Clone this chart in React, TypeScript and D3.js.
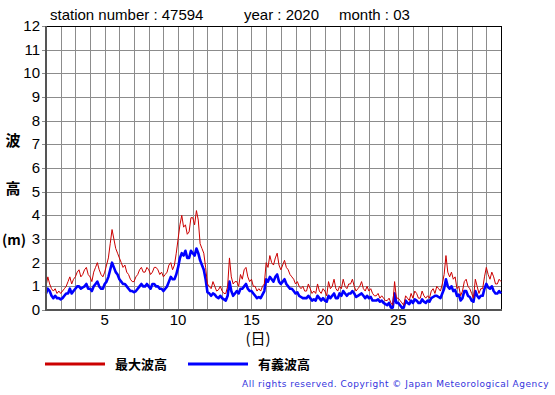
import React, { useRef, useEffect } from 'react';
import * as d3 from 'd3';

// observation times in days (every 3 hours, day 1 00:00 .. day 32 00:00)
const days: number[] = d3.range(1, 32.0001, 0.125);

// 最大波高 (m), 8 values per day
const maxWave: number[] = [
  1.0, 1.4, 1.1, 0.9, 0.8, 0.9, 0.7, 0.8,
  0.7, 0.8, 0.9, 1.0, 1.2, 1.4, 1.1, 1.3,
  1.4, 1.6, 1.7, 1.4, 1.5, 1.7, 1.8, 1.5,
  1.4, 1.2, 1.6, 1.8, 2.0, 1.7, 1.5, 1.4,
  1.6, 1.9, 2.2, 2.8, 3.4, 3.0, 2.6, 2.4,
  2.2, 2.0, 1.8, 1.9, 1.6, 1.5, 1.3, 1.2,
  1.2, 1.4, 1.5, 1.7, 1.8, 1.6, 1.6, 1.8,
  1.7, 1.5, 1.6, 1.8, 1.8, 1.7, 1.5, 1.6,
  1.4, 1.5, 1.6, 1.9, 2.0, 1.7, 1.9, 2.4,
  3.0, 3.6, 4.0, 3.5, 3.6, 3.2, 3.3, 3.9,
  3.9, 3.6, 4.2, 3.8, 2.8, 2.6, 2.4, 1.8,
  1.1, 1.0, 0.9, 1.2, 1.0, 0.8, 0.85, 1.0,
  0.8, 0.7, 0.7, 1.0, 2.2, 1.4, 1.1, 1.2,
  1.2, 1.0, 1.5, 1.3, 1.7, 1.8, 1.4, 1.2,
  1.3, 1.0, 1.0, 0.8, 0.9, 0.8, 1.0, 1.1,
  2.0, 1.8, 2.3, 2.0, 1.9, 2.2, 2.4, 1.9,
  1.7, 1.9, 2.1, 1.8, 1.7, 1.5, 1.4, 1.3,
  1.1, 1.2, 1.0, 0.9, 1.0, 0.8, 0.8, 1.1,
  0.9, 0.7, 0.8, 0.7, 1.1, 0.8, 0.7, 0.9,
  0.8, 0.6, 1.2, 0.9, 1.0, 1.3, 0.9, 0.8,
  1.0, 0.9, 1.3, 1.0, 0.9, 1.1, 1.1, 1.3,
  1.0, 0.8, 0.9, 1.0, 1.2, 0.9, 0.8, 1.0,
  0.8, 0.9, 0.7, 0.6, 0.6, 0.7, 0.5, 0.6,
  0.5, 0.4, 0.4, 0.5, 0.3, 0.2, 1.2, 0.5,
  0.5, 0.4, 0.3, 0.2, 0.6, 0.5, 0.4, 0.7,
  0.5, 0.8, 0.7, 0.5, 0.5, 0.8, 0.6, 0.5,
  0.6, 0.5, 0.8, 0.9, 0.7, 1.0, 0.9, 0.8,
  1.1, 1.5, 2.3, 1.6, 1.4, 1.6, 1.3, 1.4,
  0.9, 1.0, 0.6, 0.8, 1.2, 1.3, 1.0, 0.9,
  0.7, 0.5, 1.3, 1.0, 0.7, 0.9, 0.9, 1.4,
  1.8, 1.5, 1.3, 1.6, 1.4, 1.1, 1.1, 1.3,
  1.2,
];

// 有義波高 (m), 8 values per day
const sigWave: number[] = [
  0.7, 0.9, 0.8, 0.6, 0.5, 0.6, 0.5, 0.5,
  0.45, 0.5, 0.6, 0.7, 0.7, 0.9, 0.7, 0.8,
  0.9, 1.0, 1.0, 0.9, 0.95, 1.0, 1.1, 0.9,
  0.9, 0.8, 1.0, 1.1, 1.2, 1.0, 0.9, 0.9,
  1.1, 1.2, 1.4, 1.7, 2.0, 1.8, 1.6, 1.5,
  1.3, 1.2, 1.1, 1.1, 1.0, 0.9, 0.8, 0.8,
  0.75, 0.8, 0.9, 1.0, 1.1, 1.0, 1.0, 1.1,
  1.0, 0.9, 1.1, 1.1, 1.0, 1.0, 0.9, 0.9,
  0.8, 0.9, 1.0, 1.2, 1.4, 1.3, 1.3, 1.5,
  1.8, 2.2, 2.4, 2.3, 2.5, 2.2, 2.2, 2.5,
  2.4, 2.3, 2.6, 2.4, 2.1, 1.9, 1.7, 1.3,
  0.75, 0.7, 0.6, 0.7, 0.65, 0.55, 0.5, 0.6,
  0.5, 0.45, 0.4, 0.6, 1.2, 0.8, 0.6, 0.7,
  0.8, 0.7, 0.9, 0.9, 1.0, 1.1, 0.9, 0.8,
  0.8, 0.7, 0.6, 0.5, 0.55, 0.5, 0.65, 0.8,
  1.3, 1.2, 1.4, 1.3, 1.2, 1.4, 1.5, 1.2,
  1.1, 1.2, 1.3, 1.1, 1.0, 0.9, 0.9, 0.8,
  0.7, 0.75, 0.6, 0.55, 0.5, 0.5, 0.5, 0.6,
  0.5, 0.4, 0.45, 0.4, 0.6, 0.5, 0.4, 0.5,
  0.4, 0.35, 0.6, 0.5, 0.6, 0.7, 0.5, 0.5,
  0.7, 0.6, 0.8, 0.7, 0.6, 0.7, 0.7, 0.8,
  0.7, 0.55, 0.6, 0.65, 0.7, 0.6, 0.5, 0.6,
  0.5, 0.55, 0.4, 0.4, 0.4, 0.45, 0.35, 0.4,
  0.3, 0.25, 0.2, 0.3, 0.1, 0.1, 0.7, 0.3,
  0.3, 0.2, 0.1, 0.1, 0.4, 0.3, 0.25, 0.4,
  0.3, 0.45, 0.4, 0.3, 0.3, 0.45, 0.35, 0.3,
  0.4, 0.35, 0.5, 0.55, 0.6, 0.6, 0.55, 0.5,
  0.7, 0.9, 1.3, 1.0, 0.9, 1.0, 0.8, 0.85,
  0.6, 0.65, 0.4, 0.5, 0.8, 0.8, 0.6, 0.55,
  0.4, 0.35, 0.8, 0.6, 0.5, 0.6, 0.6, 0.9,
  1.1, 0.95, 0.9, 1.0, 0.8, 0.7, 0.7, 0.8,
  0.7,
];

const yTicks = d3.range(0, 13);
const xTicks = [5, 10, 15, 20, 25, 30];
const legendItems = [
  { label: '最大波高', color: '#cc0000' },
  { label: '有義波高', color: '#0000ff' },
];

const W = 555;
const H = 395;

const App = () => {
  const ref = useRef<SVGSVGElement>(null);

  useEffect(() => {
    const svg = d3.select(ref.current);
    svg.selectAll('*').remove();

    const left = 46, right = 501, top = 26, bottom = 310;
    const x = d3.scaleLinear().domain([1, 32]).range([left, right]);
    const y = d3.scaleLinear().domain([0, 12]).range([bottom, top]);
    const font = 'Liberation Sans, Arial, sans-serif';
    const cjk = 'Noto Sans CJK JP, sans-serif';

    svg.append('rect').attr('width', W).attr('height', H).attr('fill', '#fff');

    // grid
    const grid = svg.append('g').attr('stroke', '#8c8c8c').attr('stroke-width', 1);
    grid.selectAll('line.v')
      .data(d3.range(2, 32))
      .join('line')
      .attr('x1', d => Math.round(x(d)) + 0.5)
      .attr('x2', d => Math.round(x(d)) + 0.5)
      .attr('y1', top).attr('y2', bottom);
    grid.selectAll('line.h')
      .data(yTicks)
      .join('line')
      .attr('x1', left - 4).attr('x2', right)
      .attr('y1', d => Math.round(y(d)) + 0.5)
      .attr('y2', d => Math.round(y(d)) + 0.5);

    // frame
    svg.append('line').attr('x1', left).attr('x2', right).attr('y1', top + 0.5).attr('y2', top + 0.5).attr('stroke', '#000');
    svg.append('line').attr('x1', right + 0.5).attr('x2', right + 0.5).attr('y1', top).attr('y2', bottom).attr('stroke', '#000');

    const line = d3.line<number>()
      .x((_, i) => x(days[i]))
      .y(d => y(d));

    svg.append('path')
      .datum(sigWave)
      .attr('fill', 'none')
      .attr('stroke', '#0000ff')
      .attr('stroke-width', 2.6)
      .attr('stroke-linejoin', 'round')
      .attr('d', line);

    svg.append('path')
      .datum(maxWave)
      .attr('fill', 'none')
      .attr('stroke', '#cc0000')
      .attr('stroke-width', 1)
      .attr('stroke-linejoin', 'round')
      .attr('d', line);

    // axis lines (left and bottom)
    svg.append('line').attr('x1', left).attr('x2', left).attr('y1', top).attr('y2', bottom + 1).attr('stroke', '#555').attr('stroke-width', 2);
    svg.append('line').attr('x1', left).attr('x2', right + 1).attr('y1', bottom).attr('y2', bottom).attr('stroke', '#555').attr('stroke-width', 2);

    // y labels
    svg.append('g')
      .selectAll('text')
      .data(yTicks)
      .join('text')
      .attr('x', 40)
      .attr('y', d => y(d) + 5)
      .attr('text-anchor', 'end')
      .attr('font-family', font)
      .attr('font-size', 15)
      .text(d => d);

    // x labels
    svg.append('g')
      .selectAll('text')
      .data(xTicks)
      .join('text')
      .attr('x', d => x(d))
      .attr('y', 325)
      .attr('text-anchor', 'middle')
      .attr('font-family', font)
      .attr('font-size', 15)
      .text(d => d);

    svg.append('text').attr('x', 258).attr('y', 344).attr('text-anchor', 'middle')
      .attr('font-family', cjk).attr('font-size', 15).text('(日)');
    svg.append('text').attr('x', 13).attr('y', 146).attr('text-anchor', 'middle')
      .attr('font-family', cjk).attr('font-weight', 'bold').attr('font-size', 15).text('波');
    svg.append('text').attr('x', 13).attr('y', 194).attr('text-anchor', 'middle')
      .attr('font-family', cjk).attr('font-weight', 'bold').attr('font-size', 15).text('高');
    svg.append('text').attr('x', 14).attr('y', 245).attr('text-anchor', 'middle')
      .attr('font-family', cjk).attr('font-weight', 'bold').attr('font-size', 14).text('(m)');

    // title
    const title = svg.append('g').attr('font-family', font).attr('font-size', 15);
    title.append('text').attr('x', 50).attr('y', 20).text('station number : 47594');
    title.append('text').attr('x', 244).attr('y', 20).text('year : 2020');
    title.append('text').attr('x', 339).attr('y', 20).text('month : 03');

    // legend
    const lg = svg.append('g')
      .selectAll('g')
      .data(legendItems)
      .join('g')
      .attr('transform', (_, i) => `translate(${45 + i * 143},0)`);
    lg.append('line')
      .attr('x1', 0).attr('x2', 60)
      .attr('y1', 364).attr('y2', 364)
      .attr('stroke', d => d.color)
      .attr('stroke-width', 3);
    lg.append('text')
      .attr('x', 70).attr('y', 369)
      .attr('font-family', cjk)
      .attr('font-weight', 'bold')
      .attr('font-size', 13)
      .text(d => d.label);

    svg.append('text')
      .attr('x', 549).attr('y', 387)
      .attr('text-anchor', 'end')
      .attr('font-family', 'DejaVu Sans, sans-serif')
      .attr('font-size', 9)
      .attr('letter-spacing', 0.5)
      .attr('fill', '#3333dd')
      .text('All rights reserved. Copyright © Japan Meteorological Agency');
  }, []);

  return <svg ref={ref} width={W} height={H} style={{ display: 'block', position: 'absolute', left: 0, top: 0 }} />;
};

export default App;
